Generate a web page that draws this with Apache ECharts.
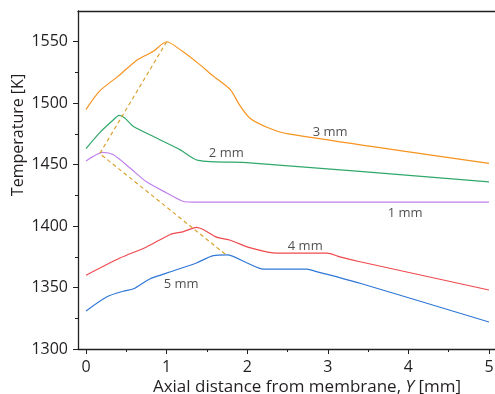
<!DOCTYPE html>
<html>
<head>
<meta charset="utf-8">
<script src="https://cdn.jsdelivr.net/npm/echarts@6/dist/echarts.min.js"></script>
<style>
html,body{margin:0;padding:0;background:#fff;}
#c{width:495px;height:394px;}
</style>
</head>
<body>
<div id="c"></div>
<script>
// Data (x in mm, temperature in K)
var x1mm = [0, 0.21, 0.34, 0.55, 0.75, 1.0, 1.21, 1.33, 5.0];
var t1mm = [1453, 1460, 1458, 1447, 1436, 1427, 1420, 1419.5, 1419.5];

var x2mm = [0, 0.17, 0.34, 0.41, 0.48, 0.59, 0.88, 1.17, 1.39, 2.03, 5.0];
var t2mm = [1463, 1476, 1486.5, 1490, 1488, 1481, 1471.5, 1462, 1453.5, 1451.5, 1436];

var x3mm = [0, 0.17, 0.4, 0.63, 0.83, 1.0, 1.2, 1.4, 1.58, 1.79, 1.91, 2.03, 2.26, 2.51, 5.0];
var t3mm = [1495, 1510, 1522, 1535, 1542, 1550, 1542, 1532, 1522, 1511, 1498, 1488, 1480, 1475, 1451];

var x4mm = [0, 0.42, 0.75, 1.04, 1.21, 1.37, 1.46, 1.62, 1.79, 2.03, 2.37, 2.99, 3.15, 3.40, 5.0];
var t4mm = [1360, 1374, 1383, 1393, 1395.5, 1399, 1397, 1391, 1388.5, 1382.5, 1378, 1378, 1375, 1371, 1348];

var x5mm = [0, 0.26, 0.46, 0.59, 0.79, 1.08, 1.37, 1.58, 1.75, 2.0, 2.2, 2.74, 2.86, 3.4, 5.0];
var t5mm = [1331, 1342.5, 1347, 1349, 1357, 1363.5, 1370, 1376, 1376.5, 1370, 1365, 1365, 1363, 1353.5, 1322];

// Peak locus (dashed)
var xPeak = [1.0, 0.17, 1.75];
var tPeak = [1550, 1459, 1376];

// Curve labels and their anchor points (data units)
var labelNames = ['3 mm', '2 mm', '1 mm', '4 mm', '5 mm'];
var labelX = [3.03, 1.74, 3.96, 2.72, 1.18];
var labelY = [1476.7, 1459.6, 1410.7, 1383.9, 1352.9];

// Ticks
var xMajor = [0, 1, 2, 3, 4, 5];
var xMinor = [0.5, 1.5, 2.5, 3.5, 4.5];
var yMajor = [1300, 1350, 1400, 1450, 1500, 1550];
var yMinor = [1325, 1375, 1425, 1475, 1525];

function zip(xs, ys) { return xs.map(function (x, i) { return [x, ys[i]]; }); }

var FONT = 'Open Sans';
var TXT = '#231f20';

var chart = echarts.init(document.getElementById('c'), null, { renderer: 'canvas' });

function lineSeries(name, xs, ys, color) {
  return {
    name: name, type: 'line', xAxisIndex: 0, yAxisIndex: 0,
    data: zip(xs, ys), showSymbol: false, symbol: 'none', smooth: 0.25,
    lineStyle: { color: color, width: 1.2 }, silent: true, z: 3
  };
}

var labelSeries = {
  type: 'scatter', xAxisIndex: 0, yAxisIndex: 0, symbolSize: 0, silent: true, z: 5,
  data: labelNames.map(function (n, i) { return { value: [labelX[i], labelY[i]], name: n }; }),
  label: { show: true, position: 'inside', formatter: '{b}', fontFamily: FONT, fontSize: 13, color: TXT }
};

function plain(v) { return String(v); }

var AX = { color: '#231f20', width: 1.3 };

var option = {
  animation: false,
  backgroundColor: '#ffffff',
  grid: { left: 78, top: 11, right: 0, bottom: 45, containLabel: false, outerBoundsMode: 'none' },
  xAxis: [
    {
      type: 'value', min: -0.1, max: 5.075, position: 'bottom',
      axisLine: { show: true, onZero: false, lineStyle: AX },
      axisTick: { show: true, customValues: xMajor, length: 5, lineStyle: { color: '#231f20', width: 1 } },
      axisLabel: { customValues: xMajor, formatter: plain, fontFamily: FONT, fontSize: 16, color: TXT, margin: 10 },
      splitLine: { show: false },
      name: 'Axial distance from membrane, {i|Y} [mm]',
      nameLocation: 'middle', nameGap: 30, nameMoveOverlap: false,
      nameTextStyle: {
        fontFamily: FONT, fontSize: 17, color: TXT, padding: [0, 0, 0, 41],
        rich: { i: { fontStyle: 'italic', fontFamily: FONT, fontSize: 17, color: TXT } }
      }
    },
    {
      type: 'value', min: -0.1, max: 5.075, position: 'bottom',
      axisLine: { show: false, onZero: false },
      axisTick: { show: true, customValues: xMinor, length: 3, lineStyle: { color: '#231f20', width: 1 } },
      axisLabel: { show: false }, splitLine: { show: false }
    },
    {
      type: 'value', min: -0.1, max: 5.075, position: 'top',
      axisLine: { show: true, onZero: false, lineStyle: AX },
      axisTick: { show: false }, axisLabel: { show: false }, splitLine: { show: false }
    }
  ],
  yAxis: [
    {
      type: 'value', min: 1300, max: 1575, position: 'left',
      axisLine: { show: true, onZero: false, lineStyle: AX },
      axisTick: { show: true, customValues: yMajor, length: 5, lineStyle: { color: '#231f20', width: 1 } },
      axisLabel: { customValues: yMajor, formatter: plain, fontFamily: FONT, fontSize: 16, color: TXT, margin: 10 },
      splitLine: { show: false },
      name: 'Temperature [K]', nameLocation: 'middle', nameGap: 52, nameRotate: 90, nameMoveOverlap: false,
      nameTextStyle: { fontFamily: FONT, fontSize: 16, color: TXT, padding: [0, 0, 0, 90] }
    },
    {
      type: 'value', min: 1300, max: 1575, position: 'left',
      axisLine: { show: false, onZero: false },
      axisTick: { show: true, customValues: yMinor, length: 3, lineStyle: { color: '#231f20', width: 1 } },
      axisLabel: { show: false }, splitLine: { show: false }
    }
  ],
  series: [
    lineSeries('3 mm', x3mm, t3mm, '#f7931e'),
    lineSeries('2 mm', x2mm, t2mm, '#2fa86a'),
    lineSeries('1 mm', x1mm, t1mm, '#c080ee'),
    lineSeries('4 mm', x4mm, t4mm, '#ef4a4f'),
    lineSeries('5 mm', x5mm, t5mm, '#2f78d6'),
    {
      name: 'peak', type: 'line', data: zip(xPeak, tPeak), showSymbol: false, symbol: 'none',
      lineStyle: { color: '#d9a232', width: 1.2, type: [4, 3] }, silent: true, z: 4
    },
    labelSeries
  ]
};
chart.setOption(option);
</script>
</body>
</html>
